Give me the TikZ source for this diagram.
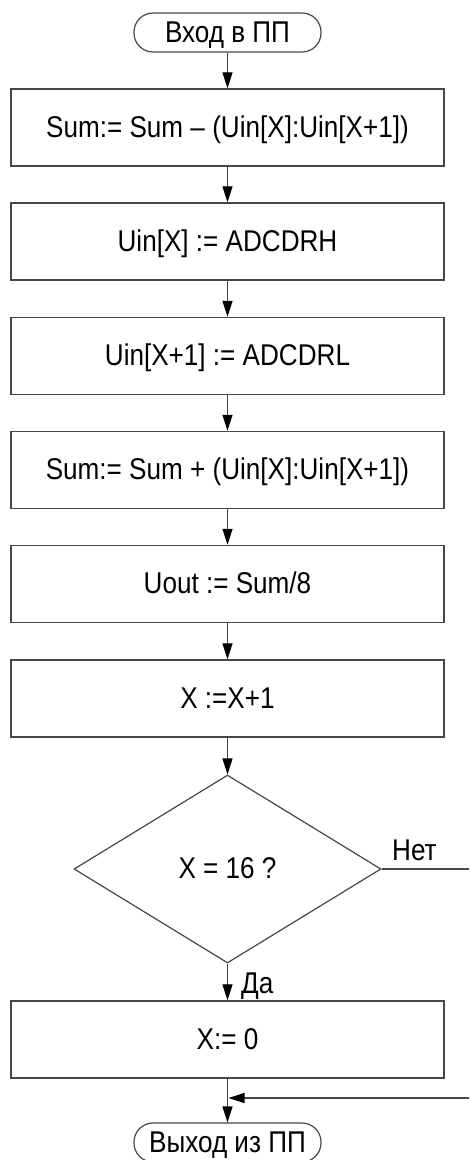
\documentclass[tikz,border=0pt]{standalone}
\usepackage{fontspec}
\setmainfont{Liberation Sans}[FakeStretch=0.87]
\usetikzlibrary{arrows.meta,shapes.geometric}
\definecolor{lineclr}{HTML}{474747}
\begin{document}
\begin{tikzpicture}[x=1pt,y=-1pt,
  every node/.style={font=\fontsize{30pt}{36pt}\selectfont, text=black},
  opbox/.style={draw=lineclr, line width=1.4pt, rectangle, minimum width=433pt,
    minimum height=77pt, inner sep=0pt, text height=21.5pt, text depth=2pt},
  term/.style={draw=lineclr, line width=1.2pt, rectangle, rounded corners=19pt,
    minimum width=187pt, minimum height=39pt, inner sep=0pt, text height=21.5pt, text depth=2pt},
  decision/.style={draw=lineclr, line width=1.2pt, diamond, minimum width=307pt,
    minimum height=188pt, inner sep=0pt, text height=21.5pt, text depth=2pt},
  flow/.style={draw=lineclr, line width=1.3pt, -{Triangle[length=16pt,width=10pt,color=black]}},
  lbl/.style={inner sep=0pt, anchor=base west}]

\useasboundingbox (0,0) rectangle (469,1160);
\clip (0,0) rectangle (469,1160);

% blocks
\node[term]  (start) at (227.5,32.5)  {Вход в ПП};
\node[opbox] (b1)    at (227.5,127.5) {Sum:= Sum – (Uin[X]:Uin[X+1])};
\node[opbox] (b2)    at (227.5,241.5) {Uin[X] := ADCDRH};
\node[opbox] (b3)    at (227.5,356)   {Uin[X+1] := ADCDRL};
\node[opbox] (b4)    at (227.5,470)   {Sum:= Sum + (Uin[X]:Uin[X+1])};
\node[opbox] (b5)    at (227.5,584)   {Uout := Sum/8};
\node[opbox] (b6)    at (227.5,698.5) {X :=X+1};
\node[decision] (dec) at (227.5,869)  {X = 16 ?};
\node[opbox] (b7)    at (227.5,1039.5) {X:= 0};
\node[term]  (stop)  at (227.5,1142.5) {Выход из ПП};

% branch labels
\node[lbl] (yes) at (241,993) {Да};
\node[lbl] (no)  at (392,860) {Нет};

% bypass route for the "no" branch
\coordinate (noturn) at (490,869);
\coordinate (merge)  at (228.5,1098);

% connectors
\draw[flow] (start) -- (b1);
\draw[flow] (b1) -- (b2);
\draw[flow] (b2) -- (b3);
\draw[flow] (b3) -- (b4);
\draw[flow] (b4) -- (b5);
\draw[flow] (b5) -- (b6);
\draw[flow] (b6) -- (dec);
\draw[flow] (dec) -- (b7);
\draw[flow] (b7) -- (stop);
\draw[flow] (dec.east) -- (noturn) |- (merge);
\end{tikzpicture}
\end{document}
